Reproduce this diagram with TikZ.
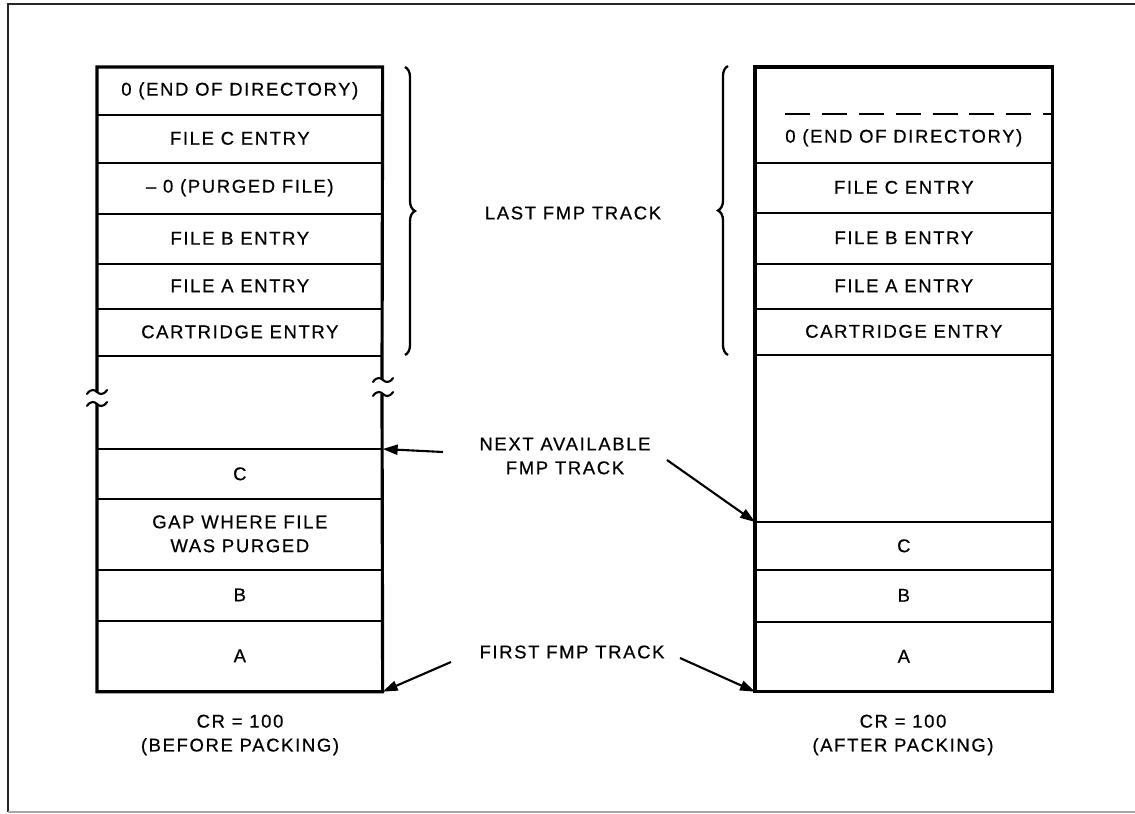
\documentclass[tikz,border=0pt]{standalone}
\usepackage{fontspec}
\setmainfont{Liberation Sans}[LetterSpace=9, FakeBold=0.6]
\usetikzlibrary{arrows.meta,decorations.pathreplacing}
\newcommand\lblfont{\fontsize{10.5}{13.6}\selectfont}
\begin{document}
\begin{tikzpicture}[x=0.02cm,y=-0.02cm,
  lbl/.style={inner sep=0pt, align=center, font=\lblfont},
  cellL/.style={lbl, minimum width=5.7cm, minimum height=#1, anchor=north west},
  cellR/.style={lbl, minimum width=5.94cm, minimum height=#1, anchor=north west},
  sep/.style={line width=1.2pt},
  outer/.style={line width=1.8pt, line join=miter},
  frame/.style={line width=0.8pt, black!85},
  arr/.style={line width=1.2pt, -{Triangle[length=0.3cm,width=0.2cm]}},
  bracestyle/.style={line width=1.3pt, decorate, decoration={brace, amplitude=0.2cm}},
  tildemark/.pic={\draw[line width=1.2pt, line cap=round] (-10,2) .. controls (-6,-4) and (-2,-2) .. (0,0) .. controls (2,2) and (6,4) .. (10,-2);}
]
\useasboundingbox (0,0) rectangle (1135,814);
% page frame
\draw[frame] (1135,4) -- (8,4) -- (8,812);
\draw[line width=0.8pt, black!35] (8,812) -- (1135,812);

% left column (before packing)
\node[cellL=0.94cm] (L1) at (97,67) {0 (END OF DIRECTORY)};
\node[cellL=0.96cm] (L2) at (97,114) {FILE C ENTRY};
\node[cellL=1.02cm] (L3) at (97,162) {– 0 (PURGED FILE)};
\node[cellL=1.00cm] (L4) at (97,213) {FILE B ENTRY};
\node[cellL=0.90cm] (L5) at (97,263) {FILE A ENTRY};
\node[cellL=0.94cm] (L6) at (97,308) {CARTRIDGE ENTRY};
\node[cellL=0.98cm] (L7) at (97,449) {C};
\node[cellL=1.42cm] (L8) at (97,498) {GAP WHERE FILE\\WAS PURGED};
\node[cellL=1.02cm] (L9) at (97,569) {B};
\node[cellL=1.42cm] (L10) at (97,620) {A};
\foreach \c in {L1,L2,L3,L4,L5,L6,L7,L8,L9}
  \draw[sep] (\c.south west) -- (\c.south east);
\draw[sep] (L7.north west) -- (L7.north east);
\draw[outer] (97,392) -- (L1.north west) -- (L1.north east) -- (382,379);
\draw[outer] (97,404) -- (L10.south west) -- (L10.south east) -- (382,394);
\pic at (97,392) {tildemark};
\pic at (97,404) {tildemark};
\pic at (383,380) {tildemark};
\pic at (383,394) {tildemark};

% right column (after packing)
\node[cellR=0.92cm] (R0) at (755,67) {};
\node[cellR=0.98cm] (R1) at (755,113) {0 (END OF DIRECTORY)};
\node[cellR=1.00cm] (R2) at (755,162) {FILE C ENTRY};
\node[cellR=1.02cm] (R3) at (755,212) {FILE B ENTRY};
\node[cellR=0.90cm] (R4) at (755,263) {FILE A ENTRY};
\node[cellR=0.92cm] (R5) at (755,308) {CARTRIDGE ENTRY};
\node[cellR=0.94cm] (R6) at (755,522) {C};
\node[cellR=1.04cm] (R7) at (755,569) {B};
\node[cellR=1.40cm] (R8) at (755,621) {A};
\draw[sep, dash pattern=on 14.2pt off 6.8pt] ([xshift=0.6cm]R0.south west) -- (R0.south east);
\foreach \c in {R1,R2,R3,R4,R5,R6,R7}
  \draw[sep] (\c.south west) -- (\c.south east);
\draw[sep] (R6.north west) -- (R6.north east);
\draw[outer] (R0.north west) rectangle (R8.south east);

% braces
\draw[bracestyle] (405,67) -- (405,355);
\draw[bracestyle] (728,355) -- (728,66);

% labels
\node[lbl] (last) at (573,213) {LAST FMP TRACK};
\node[lbl] (next) at (565,456) {NEXT AVAILABLE\\FMP TRACK};
\node[lbl] (first) at (572,652) {FIRST FMP TRACK};
\node[lbl] (capL) at (240,735) {CR = 100\\(BEFORE PACKING)};
\node[lbl] (capR) at (903,735) {CR = 100\\(AFTER PACKING)};

% arrows
\coordinate (a1) at (443,452);
\coordinate (a2) at (667,460);
\coordinate (a3) at (451,662);
\coordinate (a4) at (680,658);
\draw[arr] (a1) -- (L7.north east);
\draw[arr] (a2) -- (R6.north west);
\draw[arr] (a3) -- (L10.south east);
\draw[arr] (a4) -- (R8.south west);
\end{tikzpicture}
\end{document}
